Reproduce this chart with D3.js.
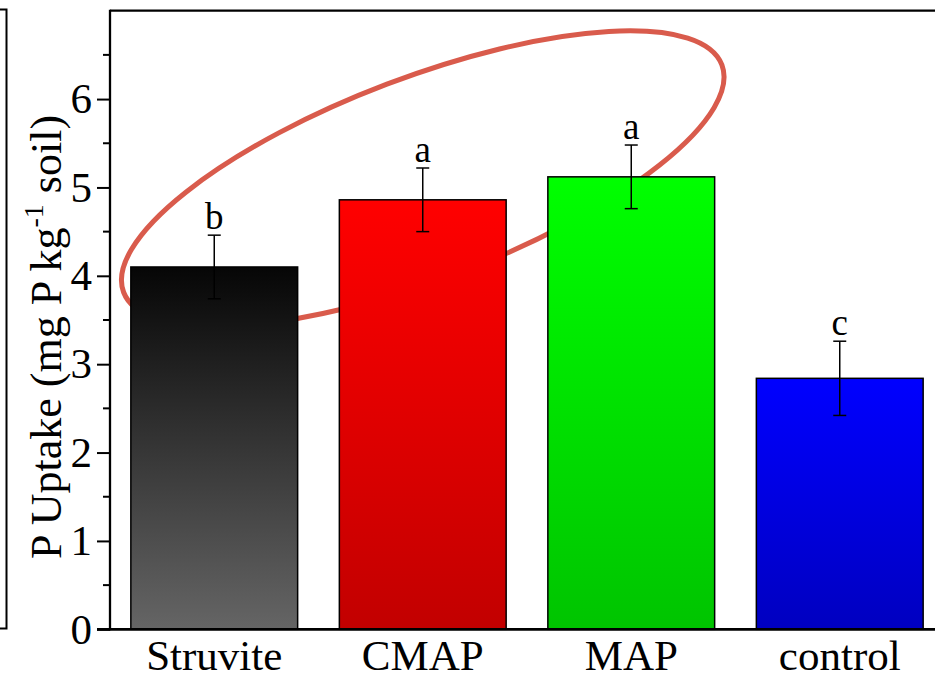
<!DOCTYPE html>
<html>
<head>
<meta charset="utf-8">
<script src="https://cdn.jsdelivr.net/npm/d3@7"></script>
<style>
  html, body { margin: 0; padding: 0; background: #fff; }
  svg { display: block; }
  text { font-family: "Liberation Serif", "Times New Roman", serif; fill: #000; }
</style>
</head>
<body>
<svg id="chart" width="935" height="680"></svg>
<script>
// Treatments and measured P uptake (mg P kg-1 soil)
const categories = ["Struvite", "CMAP", "MAP", "control"];
const uptake = [4.10, 4.86, 5.12, 2.84];
const uptakeErr = [0.36, 0.36, 0.36, 0.42];
const groupLetters = ["b", "a", "a", "c"];
const yTicks = [0, 1, 2, 3, 4, 5, 6];
const yMinorTicks = [0.5, 1.5, 2.5, 3.5, 4.5, 5.5, 6.5];
// Gradient stops per bar: [top colour, bottom colour]
const barGradients = [
  ["#060606", "#656565"],
  ["#ff0000", "#c20000"],
  ["#00ff00", "#00c400"],
  ["#0000ff", "#0000c0"]
];
// Highlight ellipse around the fertilised treatments (centre in data units)
const highlightCenter = { category: "CMAP", value: 5.10 };

const svg = d3.select("#chart");
const plotLeft = 110, plotRight = 944, plotTop = 10.7, plotBottom = 629.3;

const x = d3.scaleBand().domain(categories).range([plotLeft, plotRight])
  .paddingInner(0.2).paddingOuter(0.1);
const y = d3.scaleLinear().domain([0, 7]).range([plotBottom, plotTop]);

// Gradients
const defs = svg.append("defs");
categories.forEach((c, i) => {
  const g = defs.append("linearGradient").attr("id", "grad" + i)
    .attr("x1", 0).attr("y1", 0).attr("x2", 0).attr("y2", 1);
  g.append("stop").attr("offset", "0%").attr("stop-color", barGradients[i][0]);
  g.append("stop").attr("offset", "100%").attr("stop-color", barGradients[i][1]);
});

// Edge of the neighbouring panel frame
svg.append("rect").attr("x", -20).attr("y", 9.5).attr("width", 26.5).attr("height", 619)
  .attr("fill", "none").attr("stroke", "#000").attr("stroke-width", 2);

// Highlight ellipse (behind bars)
svg.append("ellipse")
  .attr("transform", `translate(${x(highlightCenter.category) + x.bandwidth() / 2},${y(highlightCenter.value)}) rotate(-20.8)`)
  .attr("rx", 320).attr("ry", 101)
  .attr("fill", "none").attr("stroke", "#d95b4c").attr("stroke-width", 5);

// Bars
svg.append("g").selectAll("rect").data(categories).join("rect")
  .attr("x", d => x(d))
  .attr("y", (d, i) => y(uptake[i]))
  .attr("width", x.bandwidth())
  .attr("height", (d, i) => y(0) - y(uptake[i]))
  .attr("fill", (d, i) => `url(#grad${i})`)
  .attr("stroke", "#000").attr("stroke-width", 1.5);

// Error bars
const eb = svg.append("g").attr("stroke", "#000").attr("stroke-width", 1.5);
categories.forEach((c, i) => {
  const cx = x(c) + x.bandwidth() / 2;
  const hi = y(uptake[i] + uptakeErr[i]), lo = y(uptake[i] - uptakeErr[i]);
  eb.append("line").attr("x1", cx).attr("x2", cx).attr("y1", hi).attr("y2", lo);
  eb.append("line").attr("x1", cx - 6.5).attr("x2", cx + 6.5).attr("y1", hi).attr("y2", hi);
  eb.append("line").attr("x1", cx - 6.5).attr("x2", cx + 6.5).attr("y1", lo).attr("y2", lo);
});

// Significance letters
svg.append("g").selectAll("text").data(categories).join("text")
  .attr("x", d => x(d) + x.bandwidth() / 2)
  .attr("y", (d, i) => y(uptake[i] + uptakeErr[i]) - 6)
  .attr("text-anchor", "middle")
  .attr("font-size", 37)
  .text((d, i) => groupLetters[i]);

// Frame top
svg.append("line").attr("x1", plotLeft).attr("x2", 935).attr("y1", plotTop).attr("y2", plotTop)
  .attr("stroke", "#000").attr("stroke-width", 2.3);

// Y axis
const yAxis = svg.append("g").attr("transform", `translate(${plotLeft},0)`)
  .call(d3.axisLeft(y).tickValues(yTicks).tickSize(13).tickPadding(5).tickFormat(d3.format("d")));
yAxis.select(".domain").remove();
yAxis.selectAll(".tick line").attr("stroke-width", 2);
yAxis.selectAll(".tick text").attr("font-size", 43)
  .style("font-family", '"Liberation Serif", "Times New Roman", serif');
svg.append("g").attr("transform", `translate(${plotLeft},0)`)
  .selectAll("line").data(yMinorTicks).join("line")
  .attr("x1", -7).attr("x2", 0).attr("y1", d => y(d)).attr("y2", d => y(d))
  .attr("stroke", "#000").attr("stroke-width", 2);
svg.append("line").attr("x1", plotLeft).attr("x2", plotLeft).attr("y1", plotTop - 1).attr("y2", plotBottom + 1)
  .attr("stroke", "#000").attr("stroke-width", 2.3);

// X axis
const xAxis = svg.append("g").attr("transform", `translate(0,${plotBottom})`)
  .call(d3.axisBottom(x).tickSize(0).tickPadding(10.5));
xAxis.select(".domain").remove();
xAxis.selectAll(".tick text").attr("font-size", 43).attr("dy", "0.71em")
  .style("font-family", '"Liberation Serif", "Times New Roman", serif');
svg.append("line").attr("x1", plotLeft - 13).attr("x2", 935).attr("y1", plotBottom).attr("y2", plotBottom)
  .attr("stroke", "#000").attr("stroke-width", 2.7);

// Y title
const title = svg.append("text")
  .attr("transform", "translate(61,337) rotate(-90)")
  .attr("text-anchor", "middle")
  .attr("font-size", 44);
title.append("tspan").text("P Uptake (mg P kg");
title.append("tspan").attr("font-size", 28).attr("dy", -18).text("-1");
title.append("tspan").attr("dy", 18).text(" soil)");
</script>
</body>
</html>
